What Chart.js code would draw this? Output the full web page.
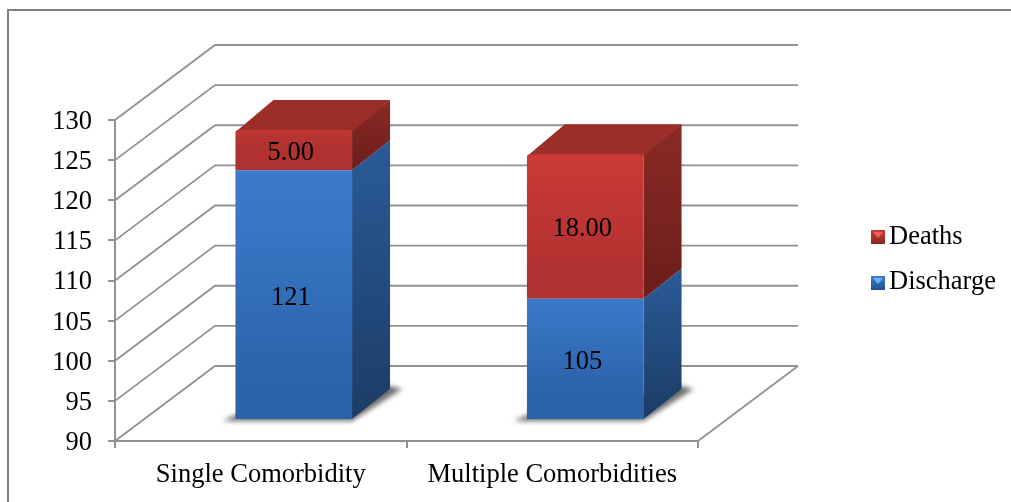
<!DOCTYPE html>
<html>
<head>
<meta charset="utf-8">
<title>Outcome by comorbidity</title>
<script src="https://cdn.jsdelivr.net/npm/chart.js@4/dist/chart.umd.js"></script>
<style>
  html, body { margin: 0; padding: 0; background: #fff; }
  canvas { display: block; }
</style>
</head>
<body>
<canvas id="myChart" width="1011" height="502"></canvas>
<script>
const categories = ["Single Comorbidity", "Multiple Comorbidities"];
const discharge = [121, 105];
const deaths = [5, 18];
const yMin = 90;
const yMax = 130;
const yStep = 5;

const axisFont = "Liberation Serif";
const fontSize = 26.5;
const gridColor = "#929292";

// wall depth of the box, and how far the bars sit inside it
const wallDx = 100;
const wallDy = 75;
const barShiftX = 33;
const barShiftY = 22;
const barDepthX = 38;
const barDepthY = 30;

const blue = { front: ["#3e7ed0", "#2b62a8"], side: ["#2a5b98", "#1c3c66"], top: "#2f68ad", mark: ["#6fb2f2", "#1f4f8c"] };
const red = { front: ["#cf3b38", "#b03130"], side: ["#8a2a25", "#6c1d1b"], top: "#9b2e29", mark: ["#f2605c", "#8a2522"] };

const vGradient = (ctx, top, bottom, stops) => {
  // options get resolved once before the scales have any size
  if (!Number.isFinite(top) || !Number.isFinite(bottom)) return stops[0];
  const g = ctx.createLinearGradient(0, top, 0, bottom);
  g.addColorStop(0, stops[0]);
  g.addColorStop(1, stops[1]);
  return g;
};

const line = (ctx, x1, y1, x2, y2) => {
  ctx.beginPath();
  ctx.moveTo(x1, y1);
  ctx.lineTo(x2, y2);
  ctx.stroke();
};

const poly = (ctx, pts) => {
  ctx.beginPath();
  pts.forEach((p, i) => (i ? ctx.lineTo(p[0], p[1]) : ctx.moveTo(p[0], p[1])));
  ctx.closePath();
  ctx.fill();
};

// shifted outline of a bar, with the stacked base clamped to the floor
const barBox = (chart, el) => {
  const p = el.getProps(["x", "y", "base", "width"], true);
  const floor = chart.scales.y.bottom;
  return {
    left: p.x - p.width / 2 + barShiftX,
    right: p.x + p.width / 2 + barShiftX,
    top: p.y - barShiftY,
    bottom: Math.min(p.base, floor) - barShiftY,
  };
};

const box3d = {
  id: "box3d",
  beforeDraw(chart) {
    const { ctx, chartArea, scales } = chart;
    const { left, right, bottom } = chartArea;
    ctx.save();
    ctx.fillStyle = "#fff";
    ctx.fillRect(0, 0, chart.width, chart.height);

    // page frame
    ctx.strokeStyle = "#808080";
    ctx.lineWidth = 2;
    ctx.beginPath();
    ctx.moveTo(8, 502);
    ctx.lineTo(8, 10);
    ctx.lineTo(1011, 10);
    ctx.stroke();

    // side wall diagonals and back wall lines
    ctx.strokeStyle = gridColor;
    ctx.lineWidth = 1.8;
    scales.y.ticks.forEach((t) => {
      const y = scales.y.getPixelForValue(t.value);
      ctx.beginPath();
      ctx.moveTo(left, y);
      ctx.lineTo(left + wallDx, y - wallDy);
      ctx.lineTo(right + wallDx, y - wallDy);
      ctx.stroke();
    });
    line(ctx, right, bottom, right + wallDx, bottom - wallDy);
    ctx.restore();
  },
  beforeDatasetsDraw(chart) {
    const { ctx } = chart;
    ctx.save();
    // soft floor shadow under each column
    chart.getDatasetMeta(0).data.forEach((el) => {
      const b = barBox(chart, el);
      ctx.save();
      ctx.filter = "blur(2.5px)";
      ctx.fillStyle = "rgba(60,60,60,0.75)";
      poly(ctx, [
        [b.left - 13, b.bottom + 2],
        [b.right, b.bottom + 2],
        [b.right + barDepthX + 12, b.bottom - barDepthY],
        [b.right + barDepthX, b.bottom - barDepthY - 3],
        [b.left, b.bottom - 4],
      ]);
      ctx.restore();
    });
    // side and top faces, the front face comes from the bar element
    [blue, red].forEach((tone, di) => {
      chart.getDatasetMeta(di).data.forEach((el) => {
        const b = barBox(chart, el);
        const dTop = b.top - barDepthY;
        ctx.fillStyle = vGradient(ctx, dTop, b.bottom, tone.side);
        poly(ctx, [
          [b.right, b.top],
          [b.right + barDepthX, dTop],
          [b.right + barDepthX, b.bottom - barDepthY],
          [b.right, b.bottom],
        ]);
        if (di === 1) {
          ctx.fillStyle = tone.top;
          poly(ctx, [
            [b.left, b.top + 2],
            [b.left + barDepthX, dTop],
            [b.right + barDepthX, dTop],
            [b.right, b.top + 2],
          ]);
        }
      });
    });
    ctx.restore();
  },
  beforeDatasetDraw(chart) {
    chart.ctx.save();
    chart.ctx.translate(barShiftX, -barShiftY);
  },
  afterDatasetDraw(chart) {
    chart.ctx.restore();
  },
  afterDatasetsDraw(chart) {
    const { ctx, data } = chart;
    ctx.save();
    ctx.fillStyle = "#000";
    ctx.font = `${fontSize}px "${axisFont}"`;
    ctx.textAlign = "center";
    ctx.textBaseline = "middle";
    // value labels on the front faces
    chart.getDatasetMeta(0).data.forEach((el, i) => {
      const b = barBox(chart, el);
      ctx.fillText(String(discharge[i]), (b.left + b.right) / 2 - 3, (b.top + b.bottom) / 2 + 3);
    });
    chart.getDatasetMeta(1).data.forEach((el, i) => {
      const b = barBox(chart, el);
      ctx.fillText(deaths[i].toFixed(2), (b.left + b.right) / 2 - 3, (b.top + b.bottom) / 2 + 3);
    });

    // legend, last series first
    ctx.textAlign = "left";
    [1, 0].forEach((di, row) => {
      const tone = di ? red : blue;
      const y = 237 + row * 46;
      ctx.fillStyle = vGradient(ctx, y - 7, y + 7, [tone.front[0], tone.mark[1]]);
      ctx.fillRect(871, y - 7, 14, 14);
      ctx.fillStyle = tone.mark[0];
      poly(ctx, [[873, y - 5], [883, y - 5], [878, y + 1]]);
      ctx.fillStyle = "#000";
      ctx.fillText(data.datasets[di].label, 889, 237 + row * 45);
    });
    ctx.restore();
  },
};

new Chart(document.getElementById("myChart"), {
  type: "bar",
  plugins: [box3d],
  data: {
    labels: categories,
    datasets: [
      {
        label: "Discharge",
        data: discharge,
        backgroundColor: (c) => {
          const y = c.chart.scales.y;
          return vGradient(c.chart.ctx, y.getPixelForValue(discharge[c.dataIndex]) - barShiftY, y.bottom - barShiftY, blue.front);
        },
      },
      {
        label: "Deaths",
        data: deaths,
        borderRadius: { topLeft: 3, topRight: 3 },
        borderSkipped: false,
        backgroundColor: (c) => {
          const y = c.chart.scales.y;
          const total = discharge[c.dataIndex] + deaths[c.dataIndex];
          return vGradient(c.chart.ctx, y.getPixelForValue(total) - barShiftY, y.getPixelForValue(discharge[c.dataIndex]) - barShiftY, red.front);
        },
      },
    ],
  },
  options: {
    responsive: false,
    animation: false,
    barPercentage: 0.4,
    categoryPercentage: 1,
    layout: { padding: { top: 120, right: 313, left: 0, bottom: 0 } },
    plugins: { legend: { display: false }, tooltip: { enabled: false } },
    scales: {
      x: {
        stacked: true,
        afterFit: (s) => { s.height = 61; },
        border: { color: gridColor, width: 2 },
        grid: { drawOnChartArea: false, offset: true, color: gridColor, lineWidth: 2, tickLength: 7 },
        ticks: { color: "#000", padding: 11, maxRotation: 0, font: { family: axisFont, size: fontSize } },
      },
      y: {
        stacked: true,
        min: yMin,
        max: yMax,
        afterFit: (s) => { s.width = 115; },
        border: { color: gridColor, width: 2 },
        grid: { drawOnChartArea: false, color: gridColor, lineWidth: 2, tickLength: 7 },
        ticks: { stepSize: yStep, color: "#000", padding: 16, labelOffset: 2, autoSkip: false, font: { family: axisFont, size: fontSize } },
      },
    },
  },
});
</script>
</body>
</html>
